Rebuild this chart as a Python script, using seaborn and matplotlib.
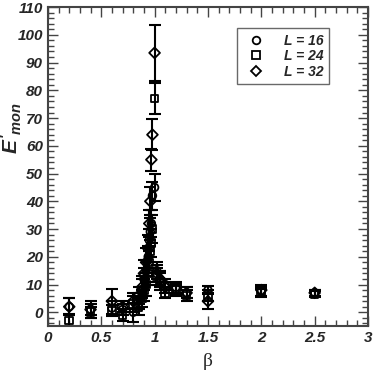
import numpy as np
import pandas as pd
import matplotlib
matplotlib.use("Agg")
import matplotlib.pyplot as plt
import seaborn as sns
from matplotlib.ticker import MultipleLocator

sns.set_theme(style="ticks")
plt.rcParams["font.family"] = ["Liberation Sans", "DejaVu Sans"]
plt.rcParams["mathtext.fontset"] = "custom"
plt.rcParams["mathtext.it"] = "Liberation Sans:bold:italic"
plt.rcParams["mathtext.rm"] = "Liberation Sans:bold:italic"

# Datos
beta = [0.2, 0.4, 0.6, 0.7, 0.8, 0.85, 0.88, 0.9, 0.92, 0.94, 0.95, 0.96,
        0.97, 0.98, 1.0, 1.02, 1.05, 1.1, 1.2, 1.3, 1.5, 2.0, 2.5]

e16 = [2, 1, 1.5, 1, 0, 4, 8, 12, 15, 20, 26, 29, 32, 42, 45, 15, 12, 10, 9, 7, 8, 7.5, 7]
err16 = [3, 2, 2.5, 2, 3.5, 3, 4, 4, 4, 4, 4, 5, 5, 5, 5, 3, 3, 2, 2, 2, 1.5, 1.5, 1]

e24 = [-3, 0, 0.5, -1, 3, 2, 5, 8, 10, 14, 18, 22, 25, 30, 77, 13, 11, 7, 8, 6, 6, 7, 6.5]
err24 = [2.5, 2, 2, 2, 3, 3, 3, 4, 4, 4, 4, 4, 5, 5, 5.5, 3, 3, 2, 2, 2, 2, 1.5, 1]

e32 = [2, 1, 4, 2, 4, 6, 9, 14, 18, 23, 32, 40, 55, 64, 93.5, 14, 12, 9, 8.5, 7, 4, 8, 7]
err32 = [3, 3, 4.5, 2, 3, 3, 4, 5, 5, 5, 5, 5, 4, 5.5, 10, 3, 3, 2, 2, 2, 3, 2, 1]

etiquetas = ["L = 16", "L = 24", "L = 32"]
marcadores = ["o", "s", "D"]

rows = []
for lab, ys, es in zip(etiquetas, [e16, e24, e32], [err16, err24, err32]):
    for b, y, e in zip(beta, ys, es):
        rows.append({"beta": b, "E": y, "err": e, "L": lab})
df = pd.DataFrame(rows)

fig = plt.figure(figsize=(3.74, 3.74), dpi=100)
ax = fig.add_axes([0.128, 0.128, 0.856, 0.853])

for lab in etiquetas:
    d = df[df["L"] == lab]
    ax.errorbar(d["beta"], d["E"], yerr=d["err"], fmt="none", ecolor="black",
                elinewidth=1.5, capsize=4, capthick=1.5, zorder=2)

sns.scatterplot(data=df, x="beta", y="E", style="L", markers=dict(zip(etiquetas, marcadores)),
                s=30, facecolor="none", edgecolor="black", linewidth=1.3, ax=ax, zorder=3)

ax.set_xlim(0, 3)
ax.set_ylim(-5, 110)
ax.xaxis.set_major_locator(MultipleLocator(0.5))
ax.xaxis.set_minor_locator(MultipleLocator(0.1))
ax.yaxis.set_major_locator(MultipleLocator(10))
ax.yaxis.set_minor_locator(MultipleLocator(2))
ax.tick_params(which="both", direction="in", top=True, right=True, color="#444444")
ax.tick_params(which="major", length=7, width=1)
ax.tick_params(which="minor", length=4, width=1)
ax.set_xticks([0, 0.5, 1, 1.5, 2, 2.5, 3])
ax.set_xticklabels(["0", "0.5", "1", "1.5", "2", "2.5", "3"])
for t in ax.get_xticklabels() + ax.get_yticklabels():
    t.set_fontweight("bold")
    t.set_fontstyle("italic")
    t.set_fontsize(11)
for s in ax.spines.values():
    s.set_linewidth(1.5)
    s.set_color("#444444")

ax.set_xlabel("β", fontsize=14, family=["Liberation Serif"], labelpad=6)
ax.set_ylabel(r"$E'_{mon}$", fontsize=15)
ax.yaxis.set_label_coords(-0.075, 0.62)

leg = ax.legend(loc="upper right", bbox_to_anchor=(0.9, 0.955), frameon=True, fancybox=False,
                edgecolor="#444444", fontsize=10, handletextpad=1.0, borderpad=0.4,
                labelspacing=0.1)
for t in leg.get_texts():
    t.set_fontweight("bold")
    t.set_fontstyle("italic")
leg.get_frame().set_linewidth(1)

fig.savefig("out.png", dpi=100)
